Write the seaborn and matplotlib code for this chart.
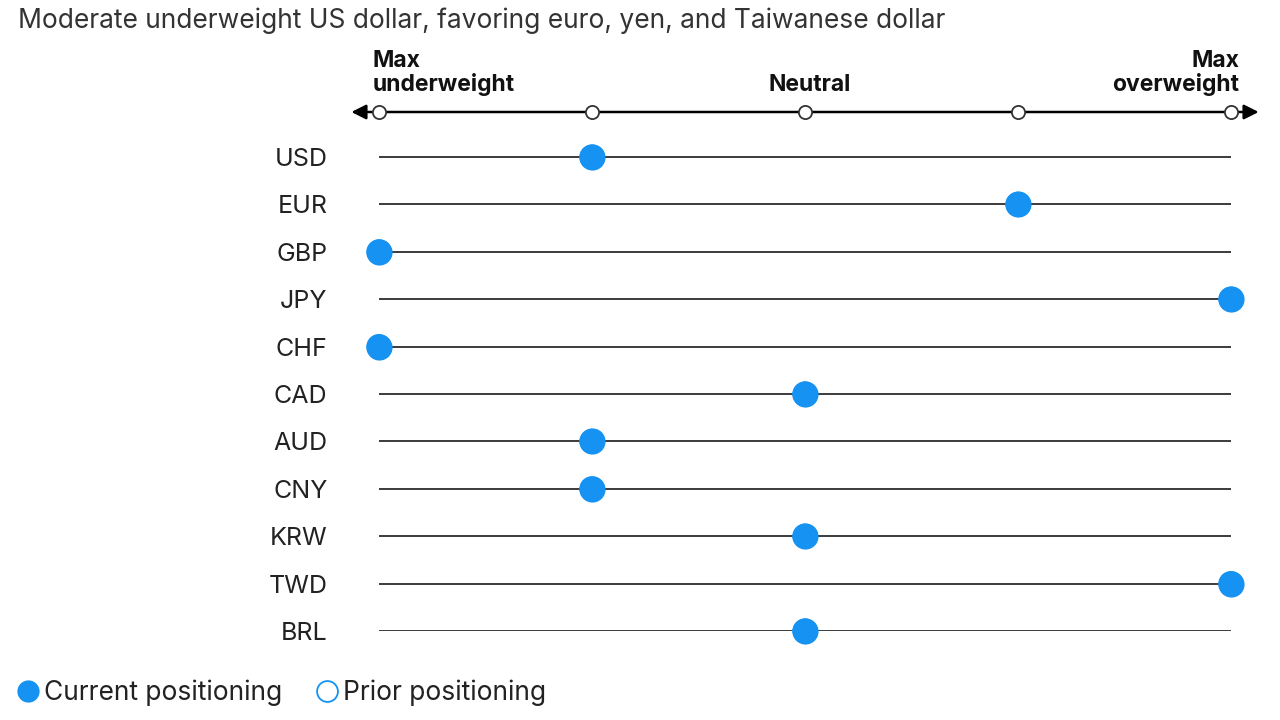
import numpy as np
import pandas as pd
import seaborn as sns
import matplotlib.pyplot as plt
from matplotlib.lines import Line2D

# positioning scale: -2 = max underweight ... +2 = max overweight
currencies = ['USD', 'EUR', 'GBP', 'JPY', 'CHF', 'CAD', 'AUD', 'CNY', 'KRW', 'TWD', 'BRL']
current = [-1, 1, -2, 2, -2, 0, -1, -1, 0, 2, 0]
prior = [-1, 1, -2, 2, -2, 0, -1, -1, 0, 2, 0]
scale_ticks = [-2, -1, 0, 1, 2]
title = 'Moderate underweight US dollar, favoring euro, yen, and Taiwanese dollar'

blue = '#1592f2'
dark = '#1a1a1a'

sns.set_theme(style='white')
plt.rcParams['font.family'] = ['Inter', 'DejaVu Sans']

df = pd.DataFrame({'currency': currencies, 'current': current, 'prior': prior})

fig = plt.figure(figsize=(12.8, 7.2), dpi=100)
ax = fig.add_axes([379 / 1280, 1 - 631 / 720, 852 / 1280, (631 - 112) / 720])

# row lines
ax.hlines(range(len(currencies)), -2, 2, color=dark, lw=1.2, zorder=1)

# prior (open) then current (filled)
sns.scatterplot(data=df, x='prior', y='currency', ax=ax, s=300, marker='o',
                facecolor='white', edgecolor=blue, linewidth=1.5, zorder=2,
                clip_on=False, legend=False)
sns.scatterplot(data=df, x='current', y='currency', ax=ax, s=330, marker='o',
                color=blue, edgecolor='none', zorder=3, clip_on=False, legend=False)

# top scale axis with arrows
axis_y = -0.95
for end in (-2.13, 2.13):
    ax.annotate('', xy=(end, axis_y), xytext=(0, axis_y),
                arrowprops=dict(arrowstyle='-|>', color='black', lw=1.8,
                                mutation_scale=22, shrinkA=0, shrinkB=0),
                annotation_clip=False)
ax.scatter(scale_ticks, [axis_y] * len(scale_ticks), s=90, facecolor='white',
           edgecolor='#333333', linewidth=1.3, zorder=4, clip_on=False)

lab_kw = dict(va='bottom', fontsize=16.5, fontweight='bold', color='#111111',
              linespacing=1.1)
ax.text(-2.03, axis_y - 0.33, 'Max\nunderweight', ha='left', **lab_kw)
ax.text(0.02, axis_y - 0.33, 'Neutral', ha='center', **lab_kw)
ax.text(2.04, axis_y - 0.33, 'Max\noverweight', ha='right',
        multialignment='right', **lab_kw)

ax.set_xlim(-2, 2)
ax.set_ylim(len(currencies) - 1, axis_y)
ax.set_xlabel('')
ax.set_ylabel('')
ax.set_xticks([])
ax.tick_params(axis='y', length=0, pad=37, labelsize=18, labelcolor='#222222')
for s in ax.spines.values():
    s.set_visible(False)

fig.text(18 / 1280, 1 - 21 / 720, title, ha='left', va='center',
         fontsize=19, color='#333333')

handles = [
    Line2D([], [], marker='o', ls='none', markersize=15, markerfacecolor=blue,
           markeredgecolor=blue),
    Line2D([], [], marker='o', ls='none', markersize=15, markerfacecolor='white',
           markeredgecolor=blue, markeredgewidth=1.3),
]
fig.legend(handles, ['Current positioning', 'Prior positioning'],
           loc='center left', bbox_to_anchor=(-6 / 1280, 1 - 693 / 720), ncol=2,
           frameon=False, fontsize=19, handlelength=0.8, handletextpad=0.2,
           columnspacing=1.3, labelcolor='#222222')

fig.savefig('out.png', dpi=100)
